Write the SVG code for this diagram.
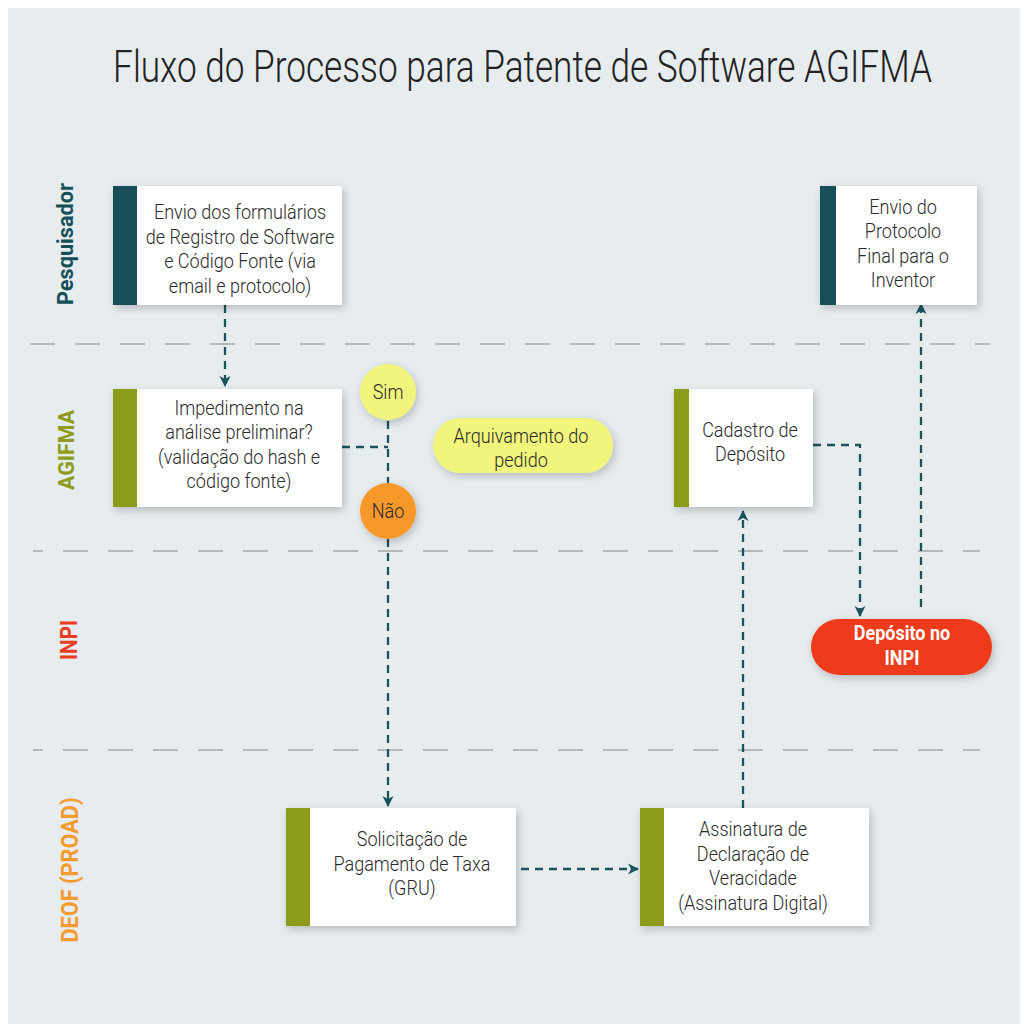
<svg xmlns="http://www.w3.org/2000/svg" width="1024" height="1027" viewBox="0 0 1024 1027">
<defs>
<filter id="sh" x="-20%" y="-20%" width="150%" height="150%">
<feDropShadow dx="2" dy="3" stdDeviation="4" flood-color="#000" flood-opacity="0.22"/>
</filter>
<marker id="ah" markerWidth="12" markerHeight="12" refX="10" refY="6" orient="auto" markerUnits="userSpaceOnUse">
<path d="M0,0.5 L11,6 L0,11.5 L3,6 z" fill="#1b535d"/>
</marker>
<style>
.bg{fill:#e7ecef}
.lane{stroke:#b4b9bc;stroke-width:2;stroke-dasharray:25 20;fill:none}
.con{stroke:#1b535d;stroke-width:2.3;stroke-dasharray:8 6;fill:none}
.box{fill:#fff;filter:url(#sh)}
.t{font-family:Roboto,"Noto Sans",sans-serif;font-weight:300;font-size:20.5px;fill:#2a2a2a;text-anchor:middle}
.w{font-family:Roboto,"Noto Sans",sans-serif;font-weight:700;font-size:20px;fill:#fff;text-anchor:middle}
.lab{font-family:Roboto,"Noto Sans",sans-serif;font-weight:700;text-anchor:middle}
.title{font-family:Roboto,"Noto Sans",sans-serif;font-weight:300;font-size:44px;fill:#222;text-anchor:middle}
</style>
</defs>
<rect x="0" y="0" width="1024" height="1027" fill="#fff"/>
<rect class="bg" x="8" y="8" width="1012" height="1016"/>
<g transform="translate(522.5 0) scale(0.80 1)">
<text class="title" x="0" y="82">Fluxo do Processo para Patente de Software AGIFMA</text>
</g>

<g id="lanes">
<line class="lane" x1="30" y1="344" x2="990" y2="344"/>
<line class="lane" x1="33" y1="551" x2="980" y2="551" stroke-dashoffset="15"/>
<line class="lane" x1="33" y1="750" x2="980" y2="750" stroke-dashoffset="15"/>
<text class="lab" transform="translate(73 244) rotate(-90)" font-size="22" fill="#164f58" textLength="122" lengthAdjust="spacingAndGlyphs">Pesquisador</text>
<text class="lab" transform="translate(74 450) rotate(-90)" font-size="22" fill="#8e9c1d" textLength="80" lengthAdjust="spacingAndGlyphs">AGIFMA</text>
<text class="lab" transform="translate(77 640) rotate(-90)" font-size="23" fill="#ea3d24" textLength="40" lengthAdjust="spacingAndGlyphs">INPI</text>
<text class="lab" transform="translate(78 870) rotate(-90)" font-size="23" fill="#f59b30" textLength="145" lengthAdjust="spacingAndGlyphs">DEOF (PROAD)</text>
</g>

<g id="connectors">
<path class="con" d="M225,305 V386" marker-end="url(#ah)"/>
<path class="con" d="M342,447 H388"/>
<path class="con" d="M388,421 V483"/>
<path class="con" d="M388,539 V806" marker-end="url(#ah)"/>
<path class="con" d="M521,869 H638" marker-end="url(#ah)"/>
<path class="con" d="M743,808 V511" marker-end="url(#ah)"/>
<path class="con" d="M813,445 H860 V616" marker-end="url(#ah)"/>
<path class="con" d="M921,607 V304" marker-end="url(#ah)"/>
</g>

<g id="n1">
<rect class="box" x="113" y="186" width="229" height="119"/>
<rect x="113" y="186" width="24" height="119" fill="#164f58"/>
<g transform="translate(240 0) scale(0.88 1)">
<text class="t" x="0" y="219.5">Envio dos formulários</text>
<text class="t" x="0" y="244">de Registro de Software</text>
<text class="t" x="0" y="268.5">e Código Fonte (via</text>
<text class="t" x="0" y="293">email e protocolo)</text>
</g>
</g>

<g id="n2">
<rect class="box" x="820" y="186" width="157" height="119"/>
<rect x="820" y="186" width="16" height="119" fill="#164f58"/>
<g transform="translate(903 0) scale(0.88 1)">
<text class="t" x="0" y="214">Envio do</text>
<text class="t" x="0" y="238.5">Protocolo</text>
<text class="t" x="0" y="263">Final para o</text>
<text class="t" x="0" y="287.5">Inventor</text>
</g>
</g>

<g id="n3">
<rect class="box" x="113" y="389" width="229" height="118"/>
<rect x="113" y="389" width="24" height="118" fill="#8c9b1a"/>
<g transform="translate(239 0) scale(0.88 1)">
<text class="t" x="0" y="415">Impedimento na</text>
<text class="t" x="0" y="439.5">análise preliminar?</text>
<text class="t" x="0" y="464">(validação do hash e</text>
<text class="t" x="0" y="488.5">código fonte)</text>
</g>
</g>

<g id="sim">
<circle cx="388" cy="392" r="28" fill="#f2f57c" filter="url(#sh)"/>
<g transform="translate(388 0) scale(0.88 1)"><text class="t" x="0" y="399">Sim</text></g>
</g>

<g id="nao">
<circle cx="388" cy="511" r="28" fill="#f7992b" filter="url(#sh)"/>
<g transform="translate(388 0) scale(0.88 1)"><text class="t" x="0" y="518">Não</text></g>
</g>

<g id="arquivamento">
<rect x="433" y="418" width="180" height="55" rx="27.5" fill="#f2f57c" filter="url(#sh)"/>
<g transform="translate(521 0) scale(0.88 1)">
<text class="t" x="0" y="443">Arquivamento do</text>
<text class="t" x="0" y="467">pedido</text>
</g>
</g>

<g id="cadastro">
<rect class="box" x="674" y="389" width="139" height="118"/>
<rect x="674" y="389" width="15" height="118" fill="#8c9b1a"/>
<g transform="translate(750 0) scale(0.88 1)">
<text class="t" x="0" y="437">Cadastro de</text>
<text class="t" x="0" y="461.5">Depósito</text>
</g>
</g>

<g id="deposito">
<rect x="811" y="619" width="181" height="56" rx="28" fill="#ee3b1f" filter="url(#sh)"/>
<g transform="translate(902 0) scale(0.9 1)">
<text class="w" x="0" y="640">Depósito no</text>
<text class="w" x="0" y="665">INPI</text>
</g>
</g>

<g id="solicitacao">
<rect class="box" x="286" y="808" width="230" height="118"/>
<rect x="286" y="808" width="24" height="118" fill="#8c9b1a"/>
<g transform="translate(412 0) scale(0.88 1)">
<text class="t" x="0" y="846.5">Solicitação de</text>
<text class="t" x="0" y="871">Pagamento de Taxa</text>
<text class="t" x="0" y="895.5">(GRU)</text>
</g>
</g>

<g id="assinatura">
<rect class="box" x="640" y="808" width="229" height="118"/>
<rect x="640" y="808" width="24" height="118" fill="#8c9b1a"/>
<g transform="translate(753 0) scale(0.88 1)">
<text class="t" x="0" y="836.5">Assinatura de</text>
<text class="t" x="0" y="861">Declaração de</text>
<text class="t" x="0" y="885.5">Veracidade</text>
<text class="t" x="0" y="910">(Assinatura Digital)</text>
</g>
</g>
</svg>
